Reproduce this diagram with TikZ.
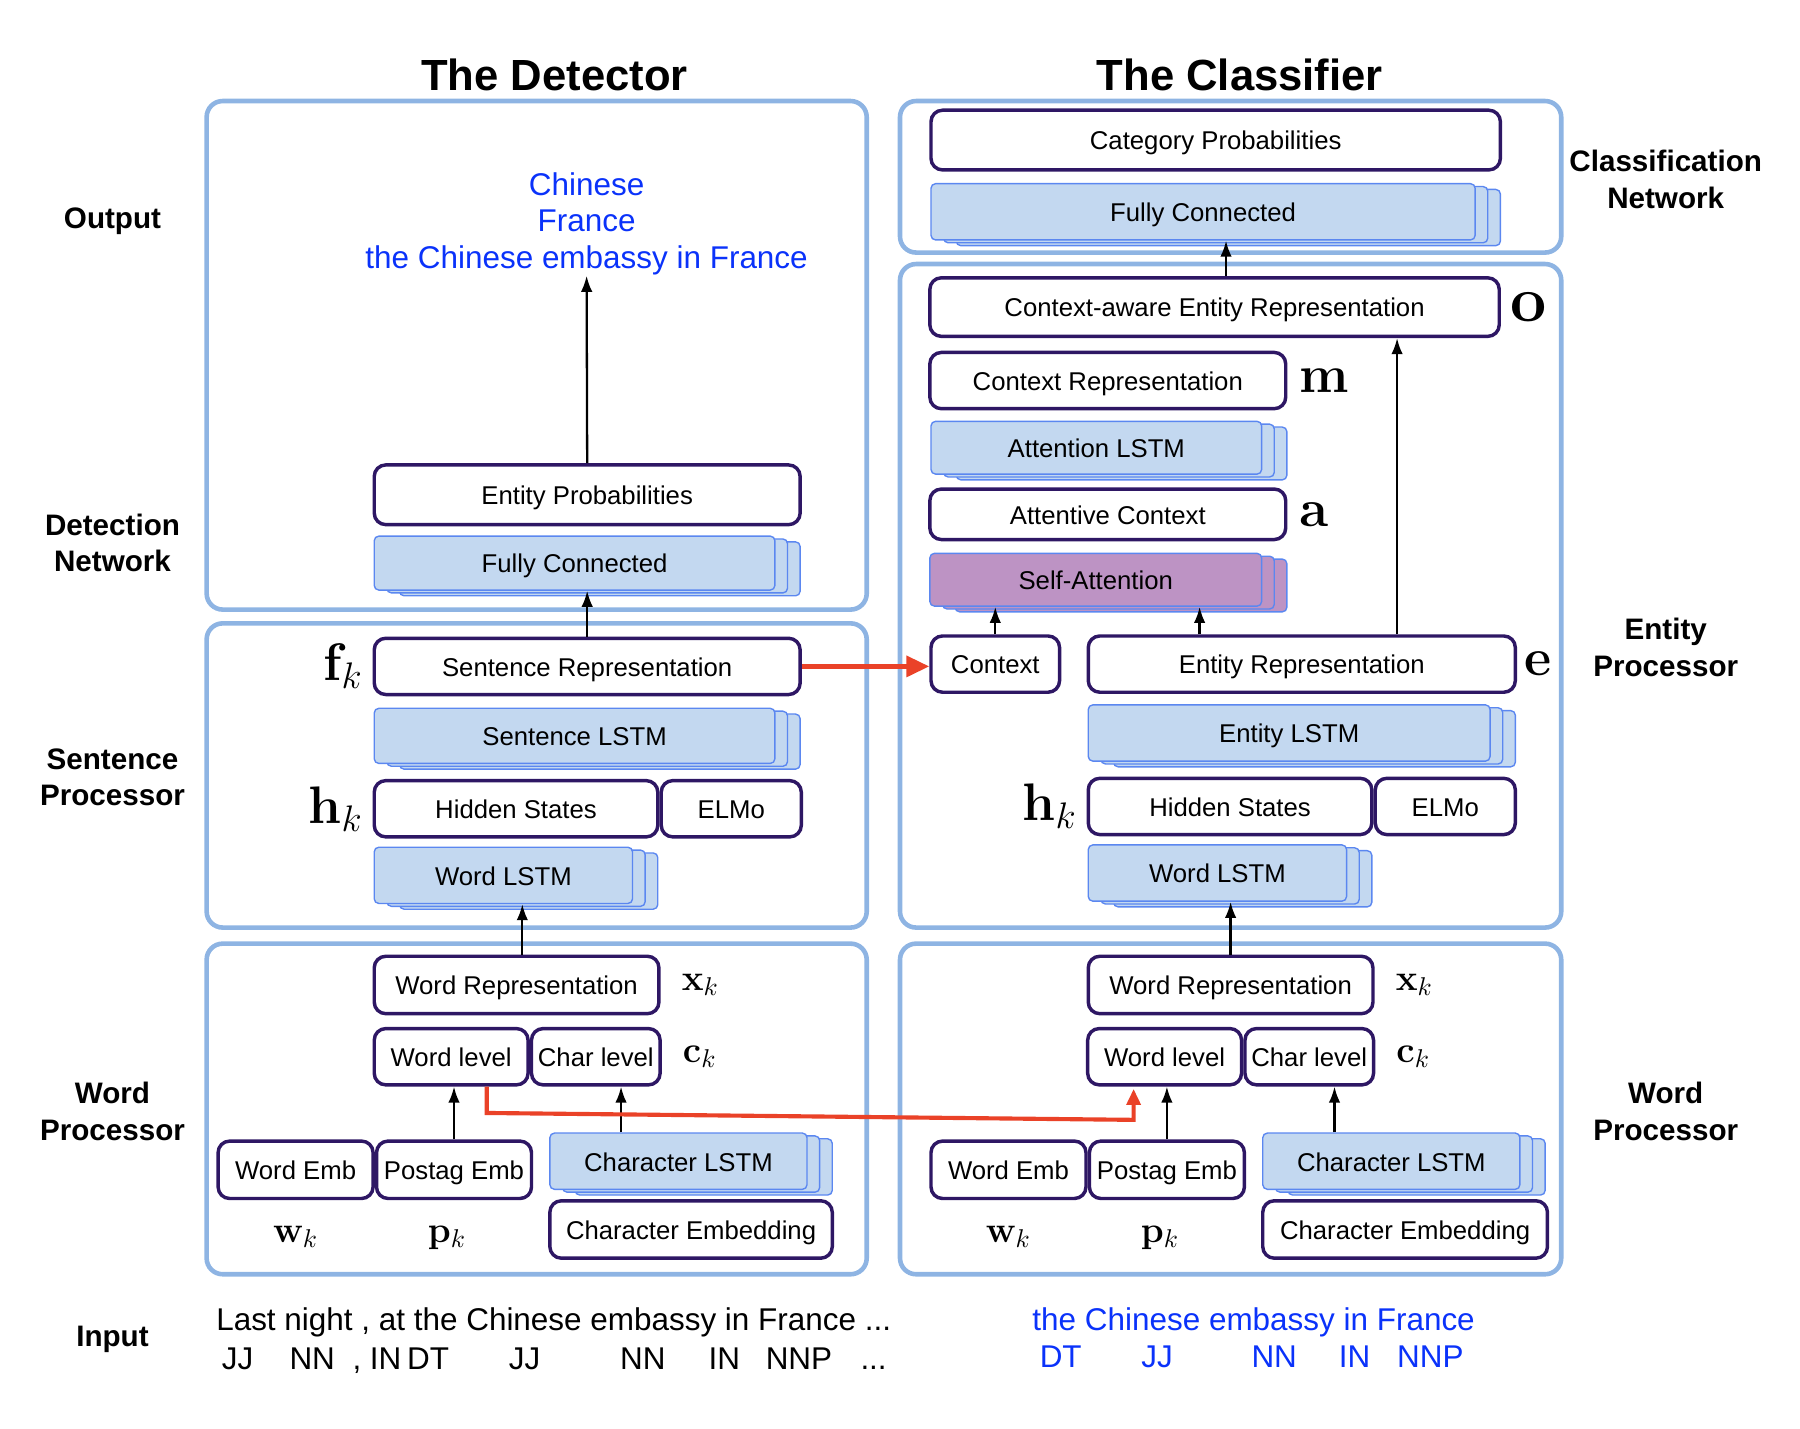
\documentclass[tikz,border=0pt]{standalone}
\usepackage{fix-cm}
\usepackage[no-math]{fontspec}
\setmainfont{Liberation Sans}
\usepackage{tikz}
\usetikzlibrary{positioning, arrows.meta, shadows, calc}
\definecolor{panelblue}{RGB}{142, 180, 227}
\definecolor{boxpurple}{RGB}{46, 23, 100}
\definecolor{lstmfill}{RGB}{195, 216, 240}
\definecolor{lstmline}{RGB}{91, 135, 240}
\definecolor{attnfill}{RGB}{189, 147, 196}
\definecolor{linkred}{RGB}{234, 66, 40}
\definecolor{entblue}{RGB}{10, 50, 250}
\newcommand{\boxfont}{\fontsize{11.2}{13}\selectfont}
\newcommand{\symbig}{\fontsize{23}{25}\selectfont}
\newcommand{\symsmall}{\fontsize{16}{18}\selectfont}

\begin{document}
\begin{tikzpicture}[
    x=0.5pt, y=-0.5pt,
    panel/.style={draw=panelblue, line width=2pt, rounded corners=7pt},
    boxsize/.style 2 args={minimum width=#1*0.5pt, minimum height=#2*0.5pt},
    block/.style={
      draw=boxpurple, line width=1.5pt, rounded corners=5pt, fill=white,
      inner sep=0pt, font=\boxfont, text height=11pt, text depth=2.4pt
    },
    lstm/.style={
      draw=lstmline, line width=0.6pt, fill=#1, rounded corners=2pt,
      inner sep=0pt, font=\boxfont, text height=11pt, text depth=2.4pt,
      copy shadow={shadow xshift=11pt, shadow yshift=-2.5pt,
        fill=#1, draw=lstmline, line width=0.6pt},
      copy shadow={shadow xshift=5.5pt, shadow yshift=-1.25pt,
        fill=#1, draw=lstmline, line width=0.6pt}
    },
    lstm/.default=lstmfill,
    headline/.style={font=\fontsize{19}{22}\selectfont\bfseries},
    sidelabel/.style={font=\fontsize{12.9}{16}\selectfont\bfseries, align=center},
    symb/.style={font=\symbig, inner sep=1pt},
    syms/.style={font=\symsmall, inner sep=1pt},
    words/.style={font=\fontsize{13.7}{16}\selectfont, inner sep=0pt},
    tag/.style={words, text height=10pt, text depth=3pt},
    flow/.style={-{Latex[length=7pt, width=5pt]}, line width=1pt},
    redlink/.style={draw=linkred, line width=2pt, -{Triangle[length=10pt, width=9pt]}}
  ]
    \useasboundingbox (0,0) rectangle (1568,1244);

    % panels
    \draw[panel] (180,88) rectangle (755,531);
    \draw[panel] (180,543) rectangle (755,808);
    \draw[panel] (180,822) rectangle (755,1110);
    \draw[panel] (784,88) rectangle (1360,220);
    \draw[panel] (784,230) rectangle (1360,808);
    \draw[panel] (784,822) rectangle (1360,1110);

    \node[headline] (dettitle) at (483,65) {The Detector};
    \node[headline] (clstitle) at (1080,65) {The Classifier};

    \node[sidelabel] (lout)  at (98,193)  {Output};
    \node[sidelabel] (ldet)  at (98,473)  {Detection\\Network};
    \node[sidelabel] (lsent) at (98,677)  {Sentence\\Processor};
    \node[sidelabel] (lword) at (98,968)  {Word\\Processor};
    \node[sidelabel] (linp)  at (98,1167) {Input};
    \node[sidelabel] (rcls)  at (1451,156) {Classification\\Network};
    \node[sidelabel] (rent)  at (1451,564) {Entity\\Processor};
    \node[sidelabel] (rword) at (1451,968) {Word\\Processor};

    % detector
    \node[words, text=entblue, align=center] (detout) at (511,195)
      {Chinese\\France\\the Chinese embassy in France};
    \node[block, boxsize={371}{52}] (entprob)  at (511.5,431)  {Entity Probabilities};
    \node[lstm, boxsize={349}{47}]  (fcdet)    at (500.5,490.5) {Fully Connected};
    \node[block, boxsize={371}{49}] (sentrep)  at (511.5,580.5) {Sentence Representation};
    \node[lstm, boxsize={349}{48}]  (sentlstm) at (500.5,641)  {Sentence LSTM};
    \node[block, boxsize={247}{49}] (hidden)   at (449.5,704.5) {Hidden States};
    \node[block, boxsize={122}{49}] (elmo)     [right=0pt of hidden] {ELMo};
    \node[lstm, boxsize={225}{49}]  (wordlstm) at (438.5,762.5) {Word LSTM};
    \node[block, boxsize={248}{50}] (wordrep)  at (450,858)    {Word Representation};
    \node[block, boxsize={134}{49}] (wordlvl)  at (393,920.5)  {Word level};
    \node[block, boxsize={112}{49}] (charlvl)  [right=0pt of wordlvl] {Char level};
    \node[block, boxsize={135}{50}] (wordemb)  at (257.5,1019) {Word Emb};
    \node[block, boxsize={135}{50}] (postag)   [right=0pt of wordemb] {Postag Emb};
    \node[lstm, boxsize={224}{49}]  (charlstm) at (591,1011.5) {Character LSTM};
    \node[block, boxsize={246}{50}] (charemb)  at (602,1071)   {Character Embedding};

    \node[symb] (fk) [left=3pt of sentrep]  {$\mathbf{f}_k$};
    \node[symb] (hk) [left=3pt of hidden]   {$\mathbf{h}_k$};
    \node[syms] (xk) [right=8pt of wordrep] {$\mathbf{x}_k$};
    \node[syms] (ck) [right=8pt of charlvl] {$\mathbf{c}_k$};
    \node[syms] (wk) [below=10pt of wordemb] {$\mathbf{w}_k$};
    \node[syms] (pk) [below=10pt of postag, xshift=-3pt] {$\mathbf{p}_k$};

    % classifier
    \node[block, boxsize={496}{52}] (catprob)   at (1059,122)   {Category Probabilities};
    \node[lstm, boxsize={474}{49}]  (fccls)     at (1048,184.5) {Fully Connected};
    \node[block, boxsize={496}{51}] (ctxaware)  at (1058,267.5) {Context-aware Entity Representation};
    \node[block, boxsize={310}{49}] (ctxrep)    at (965,331.5)  {Context Representation};
    \node[lstm, boxsize={288}{46}]  (attlstm)   at (955,390)    {Attention LSTM};
    \node[block, boxsize={310}{44}] (attctx)    at (965,448)    {Attentive Context};
    \node[lstm=attnfill, boxsize={289}{46}] (selfatt) at (954.5,505) {Self-Attention};
    \node[block, boxsize={112}{49}] (context)   at (867,578.5)  {Context};
    \node[block, boxsize={372}{49}] (entrep)    at (1134,578.5) {Entity Representation};
    \node[lstm, boxsize={350}{49}]  (entlstm)   at (1123,638.5) {Entity LSTM};
    \node[block, boxsize={247}{49}] (hidden2)   at (1071.5,702.5) {Hidden States};
    \node[block, boxsize={122}{49}] (elmo2)     [right=0pt of hidden2] {ELMo};
    \node[lstm, boxsize={225}{49}]  (wordlstm2) at (1060.5,760.5) {Word LSTM};
    \node[block, boxsize={248}{50}] (wordrep2)  at (1072,858)   {Word Representation};
    \node[block, boxsize={134}{49}] (wordlvl2)  at (1014.5,920.5) {Word level};
    \node[block, boxsize={112}{49}] (charlvl2)  [right=0pt of wordlvl2] {Char level};
    \node[block, boxsize={135}{50}] (wordemb2)  at (878.5,1019) {Word Emb};
    \node[block, boxsize={135}{50}] (postag2)   [right=0pt of wordemb2] {Postag Emb};
    \node[lstm, boxsize={224}{49}]  (charlstm2) at (1212,1011.5) {Character LSTM};
    \node[block, boxsize={248}{50}] (charemb2)  at (1224,1071)  {Character Embedding};

    \node[symb, font=\fontsize{28}{30}\selectfont] (osym) [right=3pt of ctxaware] {$\mathbf{o}$};
    \node[symb] (msym) [right=4pt of ctxrep]   {$\mathbf{m}$};
    \node[symb] (asym) [right=4pt of attctx]   {$\mathbf{a}$};
    \node[symb] (esym) [right=2pt of entrep]   {$\mathbf{e}$};
    \node[symb] (hk2) [left=3pt of hidden2]    {$\mathbf{h}_k$};
    \node[syms] (xk2) [right=8pt of wordrep2]  {$\mathbf{x}_k$};
    \node[syms] (ck2) [right=8pt of charlvl2]  {$\mathbf{c}_k$};
    \node[syms] (wk2) [below=10pt of wordemb2] {$\mathbf{w}_k$};
    \node[syms] (pk2) [below=10pt of postag2, xshift=-3pt] {$\mathbf{p}_k$};

    % input sentence
    \node[words, anchor=west] (sent) at (188,1152) {Last night , at the Chinese embassy in France ...};
    \node[tag] (t1) at (207,1186) {JJ};
    \node[tag] (t2) at (272,1186) {NN};
    \node[tag] (t3) at (311,1186) {,};
    \node[tag] (t4) at (336,1186) {IN};
    \node[tag] (t5) at (373,1186) {DT};
    \node[tag] (t6) at (457,1186) {JJ};
    \node[tag] (t7) at (560,1186) {NN};
    \node[tag] (t8) at (631,1186) {IN};
    \node[tag] (t9) at (696,1186) {NNP};
    \node[tag] (t10) at (761,1186) {...};
    \node[words, text=entblue, anchor=west] (span) at (899,1152) {the Chinese embassy in France};
    \node[tag, text=entblue] (s1) at (924,1184) {DT};
    \node[tag, text=entblue] (s2) at (1008,1184) {JJ};
    \node[tag, text=entblue] (s3) at (1110,1184) {NN};
    \node[tag, text=entblue] (s4) at (1180,1184) {IN};
    \node[tag, text=entblue] (s5) at (1246,1184) {NNP};

    % connectors
    \coordinate (wordup)  at ([xshift=2.5pt]wordrep.north);
    \coordinate (charin)  at ([xshift=11pt]charlvl.south);
    \coordinate (charin2) at ([xshift=11pt]charlvl2.south);
    \coordinate (clsout)  at ([xshift=5pt]ctxaware.north);
    \coordinate (entup)   at ([xshift=41.5pt]entrep.north);
    \coordinate (entatt)  at ([xshift=-44.5pt]entrep.north);
    \coordinate (tapL)    at ([xshift=15.5pt]wordlvl.south);
    \coordinate (tapR)    at ([xshift=-13.5pt]wordlvl2.south);

    \draw[flow] (entprob.north) -- (detout.south);
    \draw[flow] (sentrep.north) -- (sentrep.north |- fcdet.south);
    \draw[flow] (wordup) -- (wordup |- wordlstm.south);
    \draw[flow] (postag.north) -- (postag.north |- wordlvl.south);
    \draw[flow] (charin |- charlstm.north) -- (charin);

    \draw[flow] (clsout) -- (clsout |- fccls.south);
    \draw[flow] (entup) -- (entup |- ctxaware.south);
    \draw[flow] (entatt) -- (entatt |- selfatt.south);
    \draw[flow] (context.north) -- (context.north |- selfatt.south);
    \draw[flow] (wordrep2.north) -- (wordrep2.north |- wordlstm2.south);
    \draw[flow] (postag2.north) -- (postag2.north |- wordlvl2.south);
    \draw[flow] (charin2 |- charlstm2.north) -- (charin2);

    \draw[redlink] (sentrep.east) -- (sentrep.east -| context.west);
    \draw[redlink, line width=1.8pt, -{Triangle[length=7pt, width=6pt]}]
      (tapL) -- ++(0,23) -- ($(tapR)+(0,29)$) -- ([yshift=-1pt]tapR);
  \end{tikzpicture}
\end{document}
